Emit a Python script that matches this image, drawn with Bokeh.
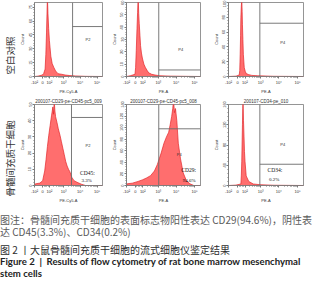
import math
from bokeh.plotting import figure
from bokeh.layouts import column, row
from bokeh.models import Div, Title, FixedTicker, Label, Range1d
from bokeh.embed import file_html
from bokeh.resources import INLINE

# ---------------- data ----------------
row_labels = ["空白对照", "骨髓间充质干细胞"]
x_axis_labels = ["PE-Cy5-A", "PE-A", "PE-A", "PE-Cy5-A", "PE-A", "PE-A"]
panel_titles = ["", "", "", "200107-CD29-pe-CD45-pc5_009",
                "200107-CD29-pe-CD45-pc5_008", "200107-CD34-pe_010"]

# fluorescence channel (display scale 0-100) and event counts
p1_x = [0, 5, 11.4, 13.5, 15.6, 16.7, 17.7, 19.0, 19.8, 20.8, 21.9, 24.0, 26.0,
        28.3, 31.0, 34.6, 40.0, 45.0, 52.0, 60.0, 75.0, 100.0]
p1_count = [0, 0.4, 1.6, 3.2, 8, 24, 48, 86, 68, 52, 39, 22, 14, 10, 6, 3, 2.4,
            1.6, 1, 0.6, 0.2, 0]

p2_x = [0, 5, 11.5, 12.3, 13.2, 14.2, 15.0, 15.8, 16.5, 17.2, 18.2, 19.0, 20.2,
        21.4, 23.5, 25.6, 28.0, 30.0, 34.0, 38.5, 45.0, 60.0, 100]
p2_count = [0, 0.6, 1.8, 7.2, 21, 39, 52, 65, 51, 43, 33, 25, 19, 15, 10, 7.2,
            4.8, 3, 1.8, 1.2, 0.6, 0.3, 0]

p3_x = [0, 10, 14.3, 15.0, 15.6, 16.1, 16.5, 17.1, 17.7, 18.2, 18.6, 19.2, 19.8,
        21.0, 22.3, 23.6, 27.0, 31.0, 39.0, 60.0, 100]
p3_count = [0, 0.5, 2, 8, 30, 55, 80, 95, 105, 88, 70, 50, 30, 12, 7, 4, 2.5,
            1.5, 1, 0.3, 0]

p4_x = [0, 1, 8, 12, 15, 17, 19, 21, 23, 25, 27, 28, 29, 30, 31, 33, 35, 37.5,
        39.6, 41.7, 43.8, 45.8, 48, 50, 52, 55, 58, 62.5, 69, 75, 100]
p4_count = [0, 1, 1.5, 3, 9, 16, 24, 31, 37, 43, 48.5, 44, 52.5, 46, 42.5, 39,
            35, 31, 27, 23, 19, 15, 12, 10, 8.5, 5, 3, 2, 0.8, 0, 0]

p5_x = [0, 1, 7.8, 15.6, 22, 27, 32.5, 37.7, 41.6, 46.8, 50.6, 54, 57, 59, 61,
        62.5, 63.6, 64.8, 66.2, 68, 70, 73, 76.6, 81, 85.7, 91, 100]
p5_count = [0, 3, 4, 7, 10, 13, 17, 25, 36, 56, 73, 84, 92, 105, 119, 133, 148,
            126, 133, 112, 73, 46, 22, 8, 3, 0, 0]

p6_x = [0, 10, 16.5, 17.1, 17.7, 18.2, 18.6, 19.0, 19.4, 20.0, 20.7, 21.3, 22.0,
        23.6, 27.0, 33.0, 42.0, 60, 100]
p6_count = [0, 0.8, 3, 19, 48, 88, 120, 152, 168, 128, 96, 67, 48, 19, 8, 3,
            1.6, 0.5, 0]

hist_x = [p1_x, p2_x, p3_x, p4_x, p5_x, p6_x]
hist_count = [p1_count, p2_count, p3_count, p4_count, p5_count, p6_count]

y_max = [80, 60, 100, 50, 140, 160]
y_ticks = [[0, 15, 30, 45, 60, 75], [0, 10, 20, 30, 40, 50, 60],
           [0, 20, 40, 60, 80, 100], [0, 10, 20, 30, 40, 50],
           [0, 20, 40, 60, 80, 100, 120, 140], [0, 40, 80, 120, 160]]

x_tick_pos = [0, 12, 22, 43, 67, 92]
x_tick_text = ["-10²", "0", "10²", "10³", "10⁴", "10⁵"]

# gates
gate_x = [56, 43.6, 41.8, 54.4, 43.6, 41.8]
gate_y = [54, 5.3, 72, 42, 98, 42]
gate_name = ["P2", "P4", "P4", "P2", "P4", "P4"]
gate_name_x = [75, 70, 69, 75, 68, 69]
gate_name_y = [40, 22, 46, 25, 53, 81]

# percentage annotations
marker_text = ["", "", "", "CD45:", "CD29:", "CD34:"]
marker_pct = ["", "", "", "3.3%", "94.6%", "0.2%"]
marker_x = [0, 0, 0, 67, 74, 52]
marker_y = [0, 0, 0, 5.7, 21, 24]
marker_pct_y = [0, 0, 0, 1.8, 5, 7]

caption_lines = [
    "图注：骨髓间充质干细胞的表面标志物阳性表达 CD29(94.6%)，阴性表",
    "达 CD45(3.3%)、CD34(0.2%)",
    "图 2 丨大鼠骨髓间充质干细胞的流式细胞仪鉴定结果",
    "Figure 2 | Results of flow cytometry of rat bone marrow mesenchymal",
    "stem cells",
]

# ---------------- styling helpers ----------------
FILL = "#ff6666"
EDGE = "#e3262b"
GRAY = "#7a7a7a"
TICKF = "Liberation Sans"


def minor_x():
    out = []
    starts = [22, 43, 67]
    widths = [21, 24, 25]
    for s, w in zip(starts, widths):
        for k in range(2, 10):
            out.append(s + w * math.log10(k))
    for k in range(1, 6):
        out.append(12 + 2 * k)
    return out


def minor_y(ticks):
    step = ticks[1] - ticks[0]
    out = []
    for t in ticks:
        for j in range(1, 5):
            out.append(t + step * j / 5)
    return out


def make_panel(i, width, height, left, right, top, bottom):
    p = figure(width=width, height=height, output_backend="svg",
               toolbar_location=None,
               x_range=Range1d(0, 100), y_range=Range1d(0, y_max[i]),
               min_border_left=left, min_border_right=right,
               min_border_top=top, min_border_bottom=bottom)
    p.background_fill_color = "white"
    p.border_fill_color = "white"
    p.outline_line_color = GRAY
    p.outline_line_width = 0.8
    p.xgrid.visible = False
    p.ygrid.visible = False

    if panel_titles[i]:
        p.title.text = panel_titles[i]
        p.title.text_font = TICKF
        p.title.text_font_size = "4.5px"
        p.title.text_font_style = "normal"
        p.title.text_color = "#333333"
        p.title.align = "center"
        p.title.standoff = 1

    p.xaxis.ticker = FixedTicker(ticks=x_tick_pos, minor_ticks=minor_x())
    p.xaxis.major_label_overrides = {pos: txt for pos, txt in zip(x_tick_pos, x_tick_text)}
    p.xaxis.axis_label = x_axis_labels[i]
    p.yaxis.ticker = FixedTicker(ticks=y_ticks[i], minor_ticks=minor_y(y_ticks[i]))
    p.yaxis.axis_label = "Count"
    p.yaxis.major_label_orientation = "vertical"
    for ax in (p.xaxis[0], p.yaxis[0]):
        ax.axis_line_color = GRAY
        ax.axis_line_width = 0.8
        ax.major_tick_line_color = GRAY
        ax.minor_tick_line_color = GRAY
        ax.major_tick_in = 0
        ax.major_tick_out = 2
        ax.minor_tick_in = 0
        ax.minor_tick_out = 1
        ax.major_label_standoff = 1
        ax.axis_label_standoff = 1
        ax.major_label_text_font = TICKF
        ax.major_label_text_font_size = "4px"
        ax.major_label_text_color = "#333333"
        ax.axis_label_text_font = TICKF
        ax.axis_label_text_font_size = "4px"
        ax.axis_label_text_font_style = "normal"
        ax.axis_label_text_color = "#333333"

    zeros = [0] * len(hist_x[i])
    p.varea(x=hist_x[i], y1=zeros, y2=hist_count[i], fill_color=FILL, fill_alpha=0.95)
    p.line(hist_x[i], hist_count[i], line_color=EDGE, line_width=0.7)

    ym = y_max[i]
    p.segment(x0=[gate_x[i], gate_x[i]], y0=[0, gate_y[i]],
              x1=[gate_x[i], 100], y1=[ym, gate_y[i]],
              line_color="#6b6b6b", line_width=0.9)

    p.add_layout(Label(x=gate_name_x[i], y=gate_name_y[i], text=gate_name[i],
                       text_font=TICKF, text_font_size="4px", text_color="#333333",
                       text_baseline="middle"))
    if marker_text[i]:
        p.add_layout(Label(x=marker_x[i], y=marker_y[i], text=marker_text[i],
                           text_font="Liberation Serif", text_font_size="5.5px",
                           text_color="#111111", text_baseline="bottom"))
        p.add_layout(Label(x=marker_x[i] + 2, y=marker_pct_y[i], text=marker_pct[i],
                           text_font="Liberation Serif", text_font_size="5px",
                           text_color="#111111", text_baseline="bottom"))
    return p


def add_row_label(p, text, offset):
    p.add_layout(Title(text=text, text_font="Noto Sans CJK SC",
                       text_font_size="9.5px", text_font_style="normal",
                       text_color="#333333", align="left", offset=offset,
                       standoff=0), "left")


# row 1
f1 = make_panel(0, 108, 96, 23, 6, 2, 14)
f2 = make_panel(1, 102, 96, 14, 10, 2, 14)
f3 = make_panel(2, 108, 96, 14, 15, 2, 14)
add_row_label(f1, row_labels[0], 2)

# row 2
f4 = make_panel(3, 108, 109, 23, 6, 8, 14)
f5 = make_panel(4, 102, 109, 14, 10, 8, 14)
f6 = make_panel(5, 108, 109, 14, 15, 8, 14)
add_row_label(f4, row_labels[1], -11)

cap_html = (
    '<div style="font-family:\'Noto Sans CJK SC\';white-space:nowrap;">'
    '<div style="font-size:10px;line-height:11.5px;color:#5a5a5a;">'
    + caption_lines[0] + '<br>' + caption_lines[1] + '</div>'
    '<div style="margin-top:6px;font-size:10px;line-height:13px;color:#2e2e2e;">'
    + caption_lines[2] + '</div>'
    '<div style="font-family:Lato;font-weight:bold;font-size:9.6px;'
    'line-height:12px;color:#222;">'
    + caption_lines[3].replace("|", "&nbsp;|&nbsp;") + '<br>' + caption_lines[4] + '</div>'
    '</div>'
)
cap = Div(text=cap_html, width=318, height=68, margin=(9, 0, 0, 0))

layout = column(row(f1, f2, f3), row(f4, f5, f6), cap)

open("out.html", "w").write(file_html(layout, INLINE))
